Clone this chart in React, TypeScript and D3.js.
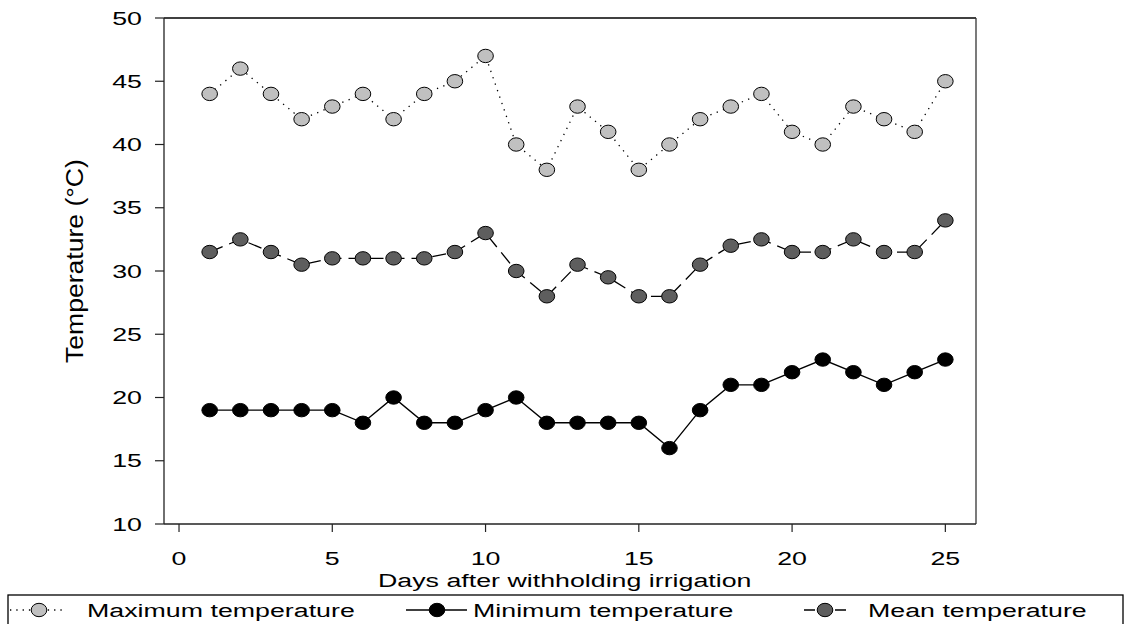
import React from "react";
import * as d3 from "d3";

const days = [1,2,3,4,5,6,7,8,9,10,11,12,13,14,15,16,17,18,19,20,21,22,23,24,25];
const maxTemp = [44,46,44,42,43,44,42,44,45,47,40,38,43,41,38,40,42,43,44,41,40,43,42,41,45];
const meanTemp = [31.5,32.5,31.5,30.5,31,31,31,31,31.5,33,30,28,30.5,29.5,28,28,30.5,32,32.5,31.5,31.5,32.5,31.5,31.5,34];
const minTemp = [19,19,19,19,19,18,20,18,18,19,20,18,18,18,18,16,19,21,21,22,23,22,21,22,23];
const xTicks = [0,5,10,15,20,25];
const yTicks = [10,15,20,25,30,35,40,45,50];

const W = 1125, H = 624;
const left = 164, right = 976, top = 18, bottom = 524;
const FS = 18.6;
const SX = 1.44;
const FONT = "'Liberation Sans', Arial, sans-serif";

function SText({ x, y, anchor = "start", children, dy = 0 }: any) {
  return (
    <g transform={`translate(${x},${y}) scale(${SX},1)`}>
      <text x={0} y={dy} textAnchor={anchor} fontSize={FS} fontFamily={FONT} fill="#000">{children}</text>
    </g>
  );
}

export default function App() {
  const x = d3.scaleLinear().domain([-0.49, 26]).range([left, right]);
  const y = d3.scaleLinear().domain([10, 50]).range([bottom, top]);
  const line = (vals: number[]) =>
    d3.line<number>().x((_, i) => x(days[i])).y((v) => y(v))(vals) as string;

  const series = [
    { vals: maxTemp, fill: "#c0c0c0", dash: "1.3,5.5", sw: 1.3, stroke: "#000" },
    { vals: meanTemp, fill: "#5e5e5e", dash: "14,7", sw: 1.3, stroke: "#000" },
    { vals: minTemp, fill: "#000", dash: null, sw: 1.4, stroke: "#000" },
  ];

  const legY = 610;
  return (
    <svg width={W} height={H} style={{ position: "absolute", left: 0, top: 0, background: "#fff" }}>
      <rect x={0} y={0} width={W} height={H} fill="#fff" />
      {/* frame */}
      <line x1={left} x2={right} y1={top} y2={top} stroke="#000" strokeWidth={1.3} />
      <line x1={right} x2={right} y1={top} y2={bottom} stroke="#333" strokeWidth={1.3} />
      <line x1={left} x2={right} y1={bottom} y2={bottom} stroke="#222" strokeWidth={1.3} />
      <line x1={left} x2={left} y1={top} y2={bottom} stroke="#222" strokeWidth={1.3} />
      {/* y ticks */}
      {yTicks.map((t) => (
        <g key={"y" + t}>
          <line x1={left - 9} x2={left} y1={y(t)} y2={y(t)} stroke="#222" strokeWidth={1.2} />
          <SText x={142} y={y(t)} dy={6.5} anchor="end">{t}</SText>
        </g>
      ))}
      {/* x ticks */}
      {xTicks.map((t) => (
        <g key={"x" + t}>
          <line x1={x(t)} x2={x(t)} y1={bottom} y2={bottom + 8} stroke="#222" strokeWidth={1.2} />
          <SText x={x(t)} y={565} anchor="middle">{t}</SText>
        </g>
      ))}
      {/* axis titles */}
      <SText x={378} y={587}>Days after withholding irrigation</SText>
      <g transform={`translate(83,363) rotate(-90) scale(1.13,1)`}>
        <text x={0} y={0} textAnchor="start" fontSize={23.5} fontFamily={FONT} fill="#000">
          Temperature (°C)
        </text>
      </g>
      {/* series */}
      {series.map((s, k) => (
        <g key={"s" + k}>
          <path d={line(s.vals)} fill="none" stroke={s.stroke} strokeWidth={s.sw} strokeDasharray={s.dash || undefined} />
          {s.vals.map((v, i) => (
            <ellipse key={i} cx={x(days[i])} cy={y(v)} rx={7.8} ry={6.7} fill={s.fill} stroke="#000" strokeWidth={1} />
          ))}
        </g>
      ))}
      {/* legend */}
      <rect x={8} y={595} width={1115} height={40} fill="none" stroke="#000" strokeWidth={1.3} />
      <line x1={10} x2={62} y1={legY} y2={legY} stroke="#000" strokeWidth={1.3} strokeDasharray="1.3,5" />
      <ellipse cx={39} cy={legY} rx={7.8} ry={6.7} fill="#c0c0c0" stroke="#000" />
      <SText x={87} y={617}>Maximum temperature</SText>
      <line x1={406} x2={467} y1={legY} y2={legY} stroke="#000" strokeWidth={1.4} />
      <ellipse cx={437} cy={legY} rx={7.8} ry={6.7} fill="#000" stroke="#000" />
      <SText x={473} y={617}>Minimum temperature</SText>
      <line x1={804} x2={846} y1={legY} y2={legY} stroke="#000" strokeWidth={1.3} strokeDasharray="11,20,11" />
      <ellipse cx={825} cy={legY} rx={7.8} ry={6.7} fill="#5e5e5e" stroke="#000" />
      <SText x={868} y={617}>Mean temperature</SText>
    </svg>
  );
}
